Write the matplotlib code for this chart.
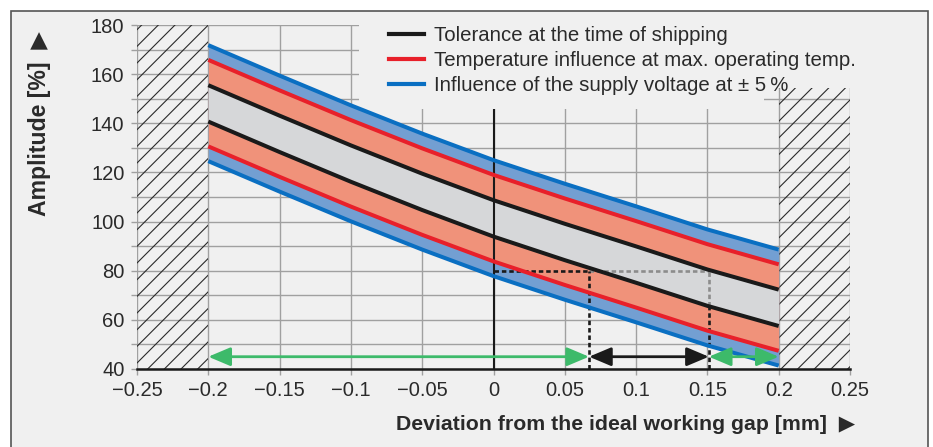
import matplotlib
matplotlib.use("Agg")
import matplotlib.pyplot as plt
from matplotlib.patches import Rectangle
from matplotlib.lines import Line2D

# ---------------- data ----------------
x_pts = [-0.2, -0.15, -0.1, -0.05, 0.0, 0.05, 0.1, 0.15, 0.2]
blue_top = [171.8, 159.4, 147.3, 135.8, 125.0, 115.4, 106.2, 96.8, 88.6]
red_top = [165.8, 153.4, 141.3, 129.8, 119.0, 109.4, 100.2, 90.8, 82.6]
black_top = [155.5, 143.1, 131.0, 119.5, 108.7, 99.1, 89.9, 80.5, 72.3]
black_bottom = [140.7, 128.3, 116.2, 104.7, 93.9, 84.3, 75.1, 65.7, 57.5]
red_bottom = [130.6, 118.2, 106.1, 94.6, 83.8, 74.2, 65.0, 55.6, 47.4]
blue_bottom = [124.6, 112.2, 100.1, 88.6, 77.8, 68.2, 59.0, 49.6, 41.4]

ref_level = 80
gap_marks = [0.067, 0.151]       # where the tolerance band crosses the reference level
range_limits = [-0.2, 0.2]       # usable range (outside is hatched)
arrow_level = 45

x_ticks = [-0.25, -0.2, -0.15, -0.1, -0.05, 0, 0.05, 0.1, 0.15, 0.2, 0.25]
x_tick_labels = ["\u22120.25", "\u22120.2", "\u22120.15", "\u22120.1", "\u22120.05",
                 "0", "0.05", "0.1", "0.15", "0.2", "0.25"]
y_ticks = [40, 60, 80, 100, 120, 140, 160, 180]

legend_labels = ["Tolerance at the time of shipping",
                 "Temperature influence at max. operating temp.",
                 "Influence of the supply voltage at \u00b1 5\u2009%"]

# ---------------- style ----------------
BG = "#f0f0f0"
GRID = "#a0a0a0"
BLACK = "#1a1a1a"
RED = "#e8202a"
BLUE = "#0a6fc2"
BLUE_FILL = "#739fd2"
SALMON = "#f0927a"
GRAY_FILL = "#d6d7d9"
GREEN = "#3dba6a"
TXT = "#2a2a2a"

plt.rcParams['font.family'] = ['Liberation Sans', 'DejaVu Sans']
plt.rcParams['hatch.linewidth'] = 0.8

fig = plt.figure(figsize=(9.33, 4.47), dpi=100, facecolor="white")
border = Rectangle((11/933, -0.02), (928-11)/933, 1 - 11/447 + 0.02,
                   transform=fig.transFigure, facecolor=BG,
                   edgecolor="#555555", linewidth=1.2, zorder=-10)
fig.patches.append(border)

ax = fig.add_axes([137/933, (447-369)/447, 713/933, 344/447])
ax.set_facecolor(BG)
ax.set_xlim(-0.25, 0.25)
ax.set_ylim(40, 180)

# grid
ax.set_xticks(x_ticks)
ax.set_xticklabels(x_tick_labels)
ax.set_yticks(y_ticks)
ax.set_yticks(list(range(50, 180, 20)), minor=True)
ax.grid(True, which="both", color=GRID, linewidth=1.0, zorder=1)
ax.set_axisbelow(True)
ax.tick_params(axis="both", which="both", direction="out", length=4,
               color=GRID, width=1.0, labelsize=14.5, labelcolor=TXT, pad=5)
for s in ["top", "right", "left"]:
    ax.spines[s].set_visible(False)
ax.spines["bottom"].set_color(BLACK)
ax.spines["bottom"].set_linewidth(1.8)
ax.spines["bottom"].set_zorder(6)

# hatched forbidden regions
for (a, b) in [(-0.25, range_limits[0]), (range_limits[1], 0.25)]:
    ax.add_patch(Rectangle((a, 40), b - a, 140, facecolor="none",
                           edgecolor="#2a2a2a", hatch="//", linewidth=0, zorder=1.5))

# bands
ax.fill_between(x_pts, blue_bottom, blue_top, color=BLUE_FILL, linewidth=0, zorder=2)
ax.fill_between(x_pts, red_bottom, red_top, color=SALMON, linewidth=0, zorder=2.1)
ax.fill_between(x_pts, black_bottom, black_top, color=GRAY_FILL, linewidth=0, zorder=2.2)

# zero line
ax.axvline(0, color=BLACK, linewidth=1.5, zorder=2.5)

# background behind legend (hides the grid there)
ax.add_patch(Rectangle((-0.094, 146), 0.284, 40, facecolor=BG, edgecolor="none",
                       zorder=2.55))
ax.add_patch(Rectangle((0.19, 154.5), 0.07, 30, facecolor=BG, edgecolor="none",
                       zorder=2.55))

# dashed construction lines
ds = (0, (1.7, 1.1))
dlw = 1.9
ax.plot([0, gap_marks[0]], [ref_level, ref_level], color=BLACK, lw=dlw, ls=ds, zorder=2.6)
ax.plot([gap_marks[0], gap_marks[1]], [ref_level, ref_level], color="#8c8c8c", lw=dlw,
        ls=ds, zorder=2.6)
ax.plot([gap_marks[0], gap_marks[0]], [40, ref_level], color=BLACK, lw=dlw, ls=ds, zorder=2.6)
ax.plot([gap_marks[1], gap_marks[1]], [65.5, ref_level], color="#8c8c8c", lw=dlw,
        ls=ds, zorder=2.6)
ax.plot([gap_marks[1], gap_marks[1]], [40, 65.5], color=BLACK, lw=dlw, ls=ds, zorder=2.6)

# curves
lw = 2.9
for yv, c in [(blue_top, BLUE), (blue_bottom, BLUE), (red_top, RED), (red_bottom, RED),
              (black_top, BLACK), (black_bottom, BLACK)]:
    ax.plot(x_pts, yv, color=c, lw=lw, solid_capstyle="butt", zorder=3)

# arrows
def darrow(x0, x1, col):
    ax.annotate("", xy=(x1, arrow_level), xytext=(x0, arrow_level),
                arrowprops=dict(arrowstyle="<|-|>,head_length=0.9,head_width=0.38",
                                color=col, lw=2, shrinkA=0, shrinkB=0,
                                mutation_scale=15), zorder=4)

darrow(range_limits[0], gap_marks[0], GREEN)
darrow(gap_marks[0], gap_marks[1], BLACK)
darrow(gap_marks[1], range_limits[1], GREEN)

# legend
handles = [Line2D([], [], color=c, lw=3) for c in [BLACK, RED, BLUE]]
leg = ax.legend(handles, legend_labels, loc="upper right",
                bbox_to_anchor=(862/933, 1 - 20/447), bbox_transform=fig.transFigure,
                fontsize=14.7, frameon=False,
                handlelength=1.7, handletextpad=0.5,
                labelspacing=0.3, borderpad=0.3, borderaxespad=0)
leg.set_zorder(5)
for t in leg.get_texts():
    t.set_color(TXT)

# axis labels
fig.text(40/933, 1 - 31/447, "Amplitude [%]  \u25b6", rotation=90, ha="center",
         va="top", fontsize=16.6, fontweight="bold", color=TXT)
fig.text(855/933, 1 - 425/447, "Deviation from the ideal working gap [mm]  \u25b6",
         ha="right", va="center", fontsize=15.3, fontweight="bold", color=TXT)

fig.savefig("out.png", dpi=100, facecolor="white")
